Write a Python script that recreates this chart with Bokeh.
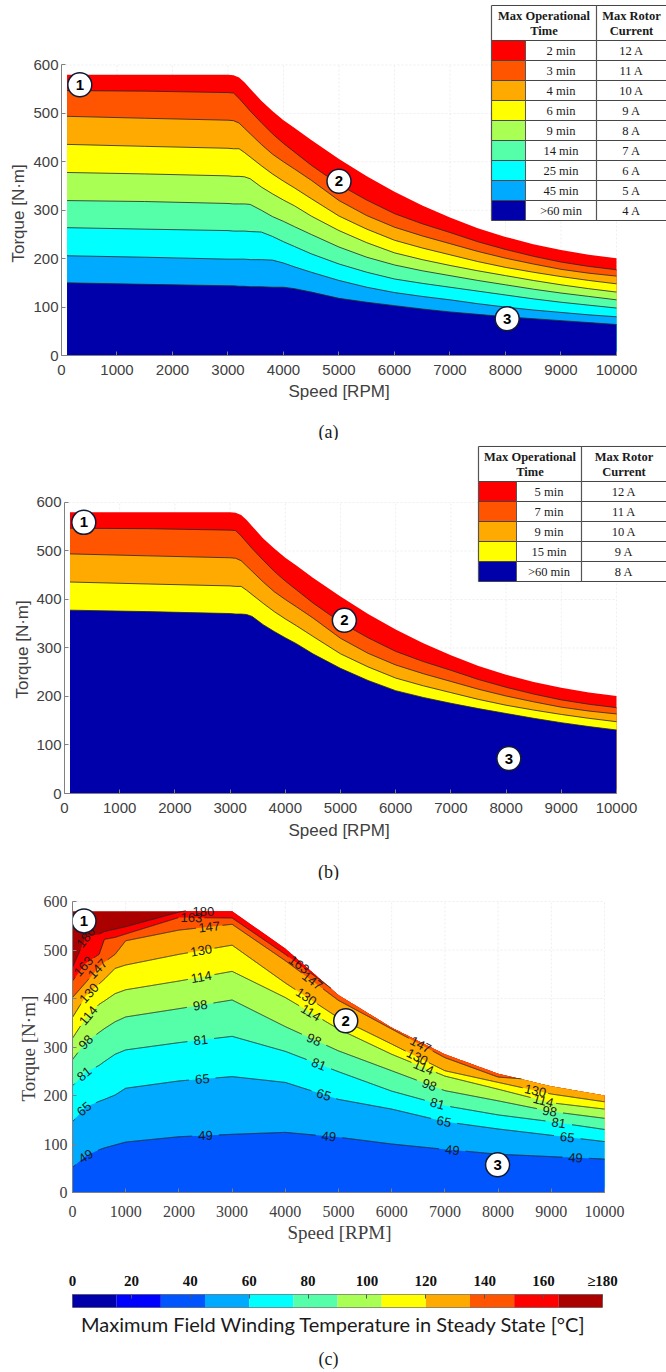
import numpy as np
from bokeh.embed import file_html
from bokeh.resources import INLINE
from bokeh.plotting import figure
from bokeh.layouts import column
from bokeh.models import Range1d, FixedTicker, Title
from bokeh.core.properties import value

JET = ["#0000aa", "#0000ff", "#0055ff", "#00aaff", "#00ffff", "#55ffaa",
       "#aaff55", "#ffff00", "#ffaa00", "#ff5500", "#ff0000", "#aa0000"]

# ---- envelope data: torque limit [N*m] for each rotor current, panels (a) and (b)
SPEED = [100, 1500, 3000, 3100, 3200, 3300, 3400, 3600, 3800, 4000, 4200, 4500, 5000, 5500, 6000, 6500, 7000, 7500, 8000, 8500, 9000, 9500, 10000]
I12 = [580, 580, 580, 579, 574, 564, 551, 526, 505, 486, 470, 445, 406, 370, 338, 310, 285, 263, 245, 230, 218, 208, 201]
I11 = [547, 546, 543, 542, 531, 518, 505, 481, 458, 438, 420, 393, 353, 321, 293, 272, 254, 235, 219, 205, 193, 184, 177]
I10 = [494, 490, 486, 485, 480, 469, 458, 436, 416, 400, 385, 362, 320, 289, 265, 247, 231, 215, 201, 189, 178, 170, 164]
I9 = [436, 432, 428, 427, 427, 419, 410, 392, 375, 360, 346, 324, 288, 261, 238, 222, 208, 194, 182, 172, 163, 155, 148]
I8 = [378, 375, 371, 370, 370, 369, 365, 348, 334, 321, 309, 288, 258, 233, 212, 198, 186, 175, 165, 155, 146, 138, 131]
I7 = [320, 318, 314, 313, 313, 313, 312, 300, 287, 277, 266, 250, 224, 203, 187, 175, 165, 155, 146, 137, 129, 122, 115]
I6 = [264, 261, 258, 257, 257, 257, 256, 255, 246, 235, 225, 210, 189, 172, 158, 149, 141, 133, 125, 117, 110, 104, 98]
I5 = [206, 203, 199, 199, 199, 199, 198, 198, 197, 191, 183, 172, 155, 141, 130, 122, 115, 107, 100, 94, 89, 84, 80]
I4 = [150, 147, 144, 144, 143, 143, 142, 142, 141, 141, 138, 131, 118, 110, 103, 96, 90, 85, 80, 76, 72, 68, 64]

TIMES_A = ["2 min", "3 min", "4 min", "6 min", "9 min", "14 min", "25 min", "45 min", ">60 min"]
CURRENTS_A = ["12 A", "11 A", "10 A", "9 A", "8 A", "7 A", "6 A", "5 A", "4 A"]
COLORS_A = ["#ff0000", "#ff5500", "#ffaa00", "#ffff00", "#aaff55", "#55ffaa", "#00ffff", "#00aaff", "#0000aa"]
CURVES_A = [I12, I11, I10, I9, I8, I7, I6, I5, I4]

TIMES_B = ["5 min", "7 min", "9 min", "15 min", ">60 min"]
CURRENTS_B = ["12 A", "11 A", "10 A", "9 A", "8 A"]
COLORS_B = ["#ff0000", "#ff5500", "#ffaa00", "#ffff00", "#0000aa"]
CURVES_B = [I12, I11, I10, I9, I8]

# ---- temperature contours, panel (c)
SPEED_C = [0, 250, 500, 600, 800, 1000, 2000, 3000, 4000, 5000, 6000, 7000, 8000, 9000, 10000]
ENV_SPEED = [0, 3000, 4000, 5000, 6000, 7000, 8000, 9000, 10000]
ENV_TORQUE = [580, 580, 503, 407, 340, 285, 245, 219, 200]
T49 = [52, 75, 88, 92, 98, 104, 115, 120, 124, 114, 100, 89, 79, 74, 69]
T65 = [146, 176, 188, 192, 201, 215, 230, 239, 227, 192, 172, 146, 131, 118, 105]
T81 = [220, 248, 262, 270, 285, 294, 309, 322, 291, 249, 209, 179, 160, 146, 130]
T98 = [274, 310, 330, 338, 352, 362, 379, 397, 342, 292, 251, 210, 189, 167, 153]
T114 = [318, 360, 388, 395, 410, 418, 436, 456, 402, 337, 285, 240, 213, 185, 172]
T130 = [361, 405, 430, 440, 462, 469, 491, 510, 432, 360, 306, 251, 227, 203, 187]
T147 = [402, 433, 465, 475, 491, 519, 541, 553, 478, 396, 337, 278, 238, 230, 230]
T163 = [436, 473, 491, 522, 526, 533, 567, 566, 491, 410, 345, 290, 250, 225, 205]
T180 = [464, 526, 533, 538, 543, 548, 578, 600, 600, 600, 600, 600, 600, 600, 600]
LEVELS = [49, 65, 81, 98, 114, 130, 147, 163, 180]
CURVES_C = [T49, T65, T81, T98, T114, T130, T147, T163, T180]
FILLS_C = ["#0055ff", "#00aaff", "#00ffff", "#55ffaa", "#aaff55", "#ffff00", "#ffaa00", "#ff5500", "#ff0000"]
LABEL_SPEEDS = [
    [250, 2500, 4820, 7140, 9456],
    [220, 2440, 4725, 6984, 9300],
    [220, 2410, 4630, 6858, 9140],
    [250, 2400, 4540, 6708, 8970],
    [295, 2420, 4480, 6600, 8850],
    [310, 2420, 4395, 6480, 8700],
    [470, 2570, 4507, 6545],
    [205, 2235, 4257],
    [250, 2460],
]

X_TICKS = list(range(0, 10001, 1000))
Y_TICKS = list(range(0, 601, 100))
BAR_TICKS = list(range(0, 181, 20))
BAR_EDGES = list(range(0, 181, 15))

LINE = "#262626"
AXIS = "#808080"
GRID = "#eeeeee"
SANS = "Liberation Sans"
SERIF = "Liberation Serif"
W = 666


def panel(h, left, bottom, xend, yend, font, tick_px, label_px, x_stand, y_stand,
          x_off, x_gap, y_off, y_gap):
    p = figure(width=W, height=h, min_border_left=left, min_border_right=0, min_border_top=0,
               min_border_bottom=bottom, x_range=Range1d(0, xend), y_range=Range1d(0, yend),
               output_backend="svg", toolbar_location=None, outline_line_color=None)
    p.grid.visible = False
    for ax, ticks, bnd, st in ((p.xaxis[0], X_TICKS, (0, 10000), x_stand), (p.yaxis[0], Y_TICKS, (0, 600), y_stand)):
        ax.ticker = FixedTicker(ticks=ticks)
        ax.bounds = bnd
        ax.axis_line_color = AXIS
        ax.major_tick_line_color = AXIS
        ax.major_tick_in = 4
        ax.major_tick_out = 0
        ax.minor_tick_line_color = None
        ax.major_label_text_font = font
        ax.major_label_text_font_size = f"{tick_px}px"
        ax.major_label_text_color = "#404040"
        ax.major_label_standoff = st
    p.yaxis[0].major_label_orientation = "horizontal"
    style = dict(text_font=font, text_font_size=f"{label_px}px", text_font_style="normal",
                 text_color="#404040", align="left")
    p.add_layout(Title(text="Speed [RPM]", offset=x_off, standoff=x_gap, **style), "below")
    p.add_layout(Title(text="Torque [N\u00b7m]", offset=y_off, standoff=y_gap, **style), "left")
    p.segment(x0=X_TICKS[1:], x1=X_TICKS[1:], y0=[0] * 10, y1=[600] * 10, line_color=GRID, line_dash="2 2", line_width=1)
    p.segment(x0=[0] * 6, x1=[10000] * 6, y0=Y_TICKS[1:], y1=Y_TICKS[1:], line_color=GRID, line_dash="2 2", line_width=1)
    return p


def envelopes(p, colors, curves):
    for c, t in zip(colors, curves):
        p.varea(x=SPEED, y1=[0] * len(SPEED), y2=t, fill_color=c)
    for t in curves[1:]:
        p.line(SPEED, t, line_color=LINE, line_width=0.8)


def table(p, fx, fy, x_cols, top, head, row_h, times, currents, colors):
    """x_cols / top are page pixels; fx, fy turn them into this panel's data coordinates."""
    n = len(times)
    ys = [top + head + i * row_h for i in range(n + 1)]
    p.quad(left=fx(x_cols[0]), right=fx(x_cols[3]), top=fy(top), bottom=fy(ys[-1]), fill_color="white", line_color=None)
    p.quad(left=[fx(x_cols[0])] * n, right=[fx(x_cols[1])] * n, top=[fy(v) for v in ys[:-1]],
           bottom=[fy(v) for v in ys[1:]], fill_color=colors, line_color=None)
    hy = [top] + ys
    p.segment(x0=[fx(x_cols[0])] * len(hy), x1=[fx(x_cols[3])] * len(hy), y0=[fy(v) for v in hy],
              y1=[fy(v) for v in hy], line_color="#444444", line_width=1)
    p.segment(x0=[fx(x_cols[0]), fx(x_cols[2])], x1=[fx(x_cols[0]), fx(x_cols[2])], y0=[fy(top)] * 2,
              y1=[fy(ys[-1])] * 2, line_color="#555555", line_width=1.2)
    p.segment(x0=fx(x_cols[1]), x1=fx(x_cols[1]), y0=fy(ys[0]), y1=fy(ys[-1]), line_color="#555555", line_width=1)
    common = dict(text_align="center", text_baseline="middle", text_font=value(SERIF), text_font_size="12.5px", text_color="#1a1a1a")
    c1, c2 = (x_cols[1] + x_cols[2]) / 2, (x_cols[2] + x_cols[3]) / 2
    p.text(x=[fx(c1)] * n, y=[fy(v + row_h / 2 + 1) for v in ys[:-1]], text=times, **common)
    p.text(x=[fx(c2)] * n, y=[fy(v + row_h / 2 + 1) for v in ys[:-1]], text=currents, **common)
    cm = (x_cols[0] + x_cols[2]) / 2
    bold = dict(common, text_font_style="bold")
    p.text(x=[fx(cm), fx(cm), fx(c2), fx(c2)],
           y=[fy(top + head * .3), fy(top + head * .72), fy(top + head * .3), fy(top + head * .72)],
           text=["Max Operational", "Time", "Max Rotor", "Current"], **bold)


def badges(p, xs, ys):
    p.scatter(xs, ys, size=24, fill_color="white", line_color="#111a33", line_width=1.5)
    p.text(xs, ys, text=["1", "2", "3"], text_align="center", text_baseline="middle", text_font=value(SANS),
           text_font_style="bold", text_font_size="15px", text_color="black")


def strip(h, items):
    """A text-only band across the page; items are (x, y from its top, text, px, font)."""
    s = figure(width=W, height=h, min_border=0, x_range=Range1d(0, W), y_range=Range1d(h, 0),
               x_axis_type=None, y_axis_type=None, output_backend="svg", toolbar_location=None, outline_line_color=None)
    s.grid.visible = False
    for x, y, t, px, font in items:
        s.text([x], [y], text=[t], text_align="center", text_baseline="middle", text_font=value(font),
               text_font_size=f"{px}px", text_color="#1a1a1a")
    return s


# ---- (a): frame left at page x=61, bottom at page y=355
a = panel(417, 61, 62, 10901, 733.2, SANS, 15, 17, 9, 3, 227, 5, 93, 5)
envelopes(a, COLORS_A, CURVES_A)
sa_x, sa_y = 10000 / 555, 600 / 290.5
table(a, lambda v: (v - 61) * sa_x, lambda v: (355 - v) * sa_y, (491, 525, 596, 666), 5, 35, 20, TIMES_A, CURRENTS_A, COLORS_A)
badges(a, [330, 5000, 8030], [559, 360, 76])
cap_a = strip(23, [(328, 14, "(a)", 18, SERIF)])

# ---- (b): frame left at page x=64, bottom at page y=793
b = panel(413, 64, 60, 10906, 727.8, SANS, 15, 17, 9, 3, 224, 6, 95, 4)
envelopes(b, COLORS_B, CURVES_B)
sb_x, sb_y = 10000 / 552, 600 / 291
table(b, lambda v: (v - 64) * sb_x, lambda v: (793 - v) * sb_y, (478, 516, 581, 666), 446, 35, 20, TIMES_B, CURRENTS_B, COLORS_B)
badges(b, [350, 5070, 8050], [559, 357, 72])
cap_b = strip(27, [(328, 18, "(b)", 18, SERIF)])

# ---- (c): frame left at page x=72, bottom at page y=1192
c = panel(382, 72, 70, 11165, 643.3, SERIF, 16, 19, 13, 5, 215, 0, 91, 3)
xs = np.arange(0, 10001, 10)
env = np.interp(xs, ENV_SPEED, ENV_TORQUE)
px_x, px_y = 532 / 10000, 291 / 600
c.varea(x=xs, y1=np.zeros_like(xs), y2=env, fill_color=JET[11])
for fill, t in zip(FILLS_C[::-1], CURVES_C[::-1]):
    c.varea(x=xs, y1=np.zeros_like(xs), y2=np.minimum(np.interp(xs, SPEED_C, t), env), fill_color=fill)
for lev, t, speeds in zip(LEVELS, CURVES_C, LABEL_SPEEDS):
    ys = np.minimum(np.interp(xs, SPEED_C, t), env)
    masked = np.interp(xs, SPEED_C, t).astype(float)
    masked[masked > env + 1] = np.nan
    lx, ly, la = [], [], []
    for s in speeds:
        y0 = float(np.interp(s, xs, ys))
        w = 130
        dy = float(np.interp(min(s + w, 10000), xs, ys) - np.interp(max(s - w, 0), xs, ys))
        dx = min(s + w, 10000) - max(s - w, 0)
        la.append(float(np.arctan2(dy * px_y, dx * px_x)))
        lx.append(s)
        ly.append(y0)
        d = np.hypot((xs - s) * px_x, (ys - y0) * px_y)
        masked[d < 13] = np.nan
    c.line(xs, masked, line_color=LINE, line_width=0.9)
    c.text(lx, ly, text=[str(lev)] * len(lx), angle=la, text_align="center", text_baseline="middle",
           text_font=value(SANS), text_font_size="13px", text_color="#1a1a1a")
badges(c, [216, 5136, 7990], [560, 354, 57])

# ---- colour bar below (c): frame from page x=72 to 602, y=1294 to 1307
d = figure(width=W, height=48, min_border_left=72, min_border_right=64, min_border_top=32, min_border_bottom=3,
           x_range=Range1d(0, 180), y_range=Range1d(0, 1), output_backend="svg", toolbar_location=None,
           x_axis_location="above", outline_line_color="#777777")
d.yaxis.visible = False
d.grid.visible = False
d.quad(left=BAR_EDGES[:-1], right=BAR_EDGES[1:], bottom=[0] * 12, top=[1] * 12, fill_color=JET, line_color=None)
ax = d.xaxis[0]
ax.ticker = FixedTicker(ticks=BAR_TICKS)
ax.major_label_overrides = {180: "\u2265180"}
ax.axis_line_color = None
ax.major_tick_in = 4
ax.major_tick_out = 0
ax.major_tick_line_color = "#555555"
ax.minor_tick_line_color = None
ax.major_label_text_font = SERIF
ax.major_label_text_font_style = "bold"
ax.major_label_text_font_size = "15px"
ax.major_label_text_color = "#111111"
ax.major_label_standoff = 6
cap_c = strip(62, [(333, 13, "Maximum Field Winding Temperature in Steady State [\u00b0C]", 20, "Lato"),
                   (328, 48, "(c)", 18, SERIF)])

root = column(column(a), column(cap_a), column(b), column(cap_b), column(c), column(d), column(cap_c), spacing=0)
open("out.html", "w").write(file_html(root, INLINE))
